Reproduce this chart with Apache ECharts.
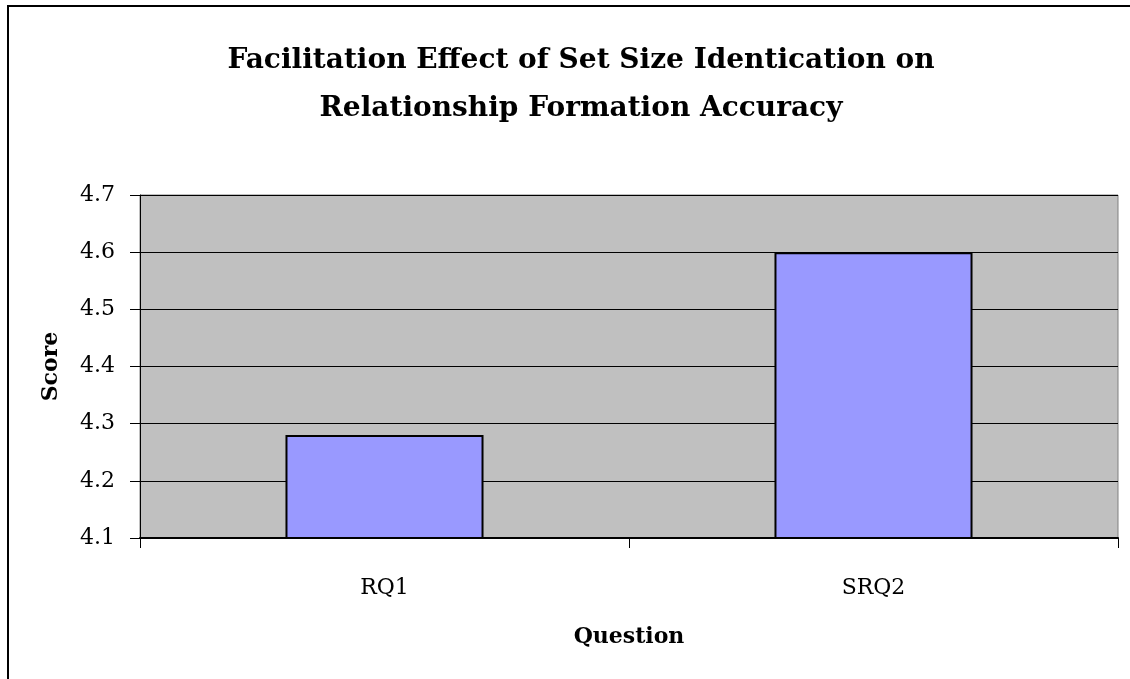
<!DOCTYPE html>
<html>
<head>
<meta charset="utf-8">
<script src="https://cdn.jsdelivr.net/npm/echarts@6/dist/echarts.min.js"></script>
<style>
  body { margin: 0; padding: 0; background: #fff; }
  #chart { width: 1130px; height: 679px; }
</style>
</head>
<body>
<div id="chart"></div>
<script>
// data
const questions = ["RQ1", "SRQ2"];
const scores = [4.28, 4.6];
const yTicks = [4.1, 4.2, 4.3, 4.4, 4.5, 4.6, 4.7];

const serif = "'DejaVu Serif', 'Liberation Serif', serif";

let chart = echarts.init(document.getElementById("chart"));
let option = {
  backgroundColor: "#fff",
  animation: false,
  title: {
    text: "Facilitation Effect of Set Size Identication on\nRelationship Formation Accuracy",
    left: 576,
    top: 32,
    textAlign: "center",
    textStyle: {
      fontFamily: serif,
      fontSize: 28,
      fontWeight: "bold",
      color: "#000",
      lineHeight: 48,
    },
  },
  graphic: [
    {
      type: "rect",
      shape: { x: 8, y: 6, width: 1200, height: 800 },
      style: { fill: "none", stroke: "#000", lineWidth: 2 },
      silent: true,
    },
  ],
  grid: {
    left: 140,
    right: 12,
    top: 195,
    bottom: 141,
    show: true,
    backgroundColor: "#c0c0c0",
    borderColor: "#808080",
    borderWidth: 1,
  },
  xAxis: {
    type: "category",
    data: questions,
    name: "Question",
    nameLocation: "middle",
    nameGap: 88,
    nameTextStyle: {
      fontFamily: serif,
      fontSize: 22,
      fontWeight: "bold",
      color: "#000",
    },
    axisLine: { lineStyle: { color: "#000", width: 2 } },
    axisTick: { show: true, length: 10, alignWithLabel: false, lineStyle: { color: "#000", width: 1 } },
    axisLabel: {
      margin: 39,
      fontFamily: serif,
      fontSize: 22,
      color: "#000",
    },
    splitLine: { show: false },
  },
  yAxis: {
    type: "value",
    min: yTicks[0],
    max: yTicks[yTicks.length - 1],
    interval: 0.1,
    name: "Score",
    nameLocation: "middle",
    nameGap: 78,
    nameTextStyle: {
      fontFamily: serif,
      fontSize: 22,
      fontWeight: "bold",
      color: "#000",
    },
    axisLine: { show: true, lineStyle: { color: "#000", width: 1 } },
    axisTick: { show: true, length: 10, lineStyle: { color: "#000" } },
    axisLabel: {
      margin: 25,
      fontFamily: serif,
      fontSize: 22,
      color: "#000",
      formatter: (v) => v.toFixed(1),
    },
    splitLine: { show: true, lineStyle: { color: "#000", width: 1 } },
  },
  series: [
    {
      type: "bar",
      data: scores,
      barWidth: "40.5%",
      itemStyle: {
        color: "#9999ff",
        borderColor: "#000",
        borderWidth: 2,
      },
    },
  ],
};
chart.setOption(option);
</script>
</body>
</html>
